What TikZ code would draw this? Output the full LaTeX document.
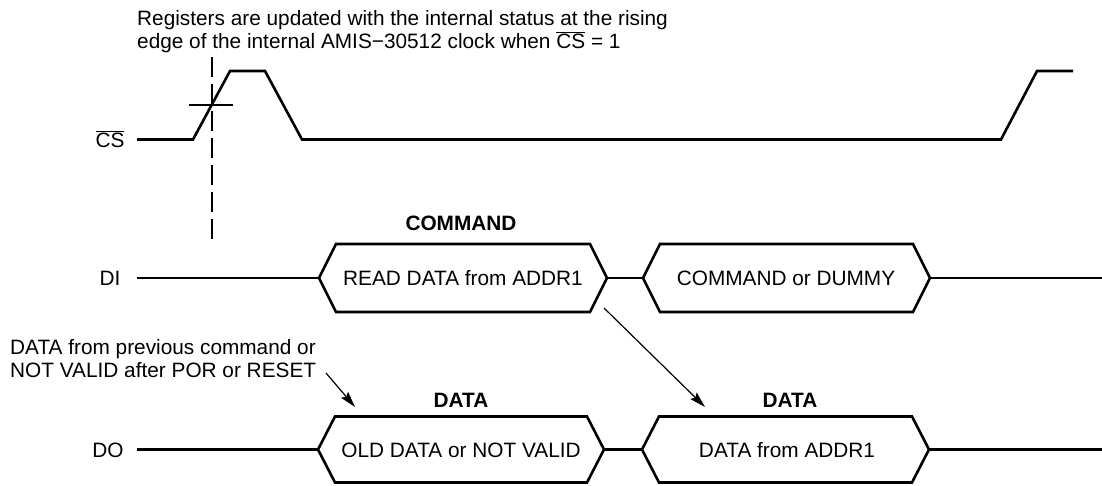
\documentclass[tikz,border=0pt]{standalone}
\usepackage{fontspec}
\setmainfont{Liberation Sans}
\usetikzlibrary{arrows.meta}
\tikzset{
  sig/.style={line width=2.6pt},
  thinln/.style={line width=1.2pt},
  txt/.style={font=\fontsize{20.8}{24}\selectfont, inner sep=0pt, anchor=base},
  btxt/.style={txt, font=\fontsize{20.8}{24}\selectfont\bfseries},
  arr/.style={line width=1.2pt, -{Stealth[length=16pt,width=9pt,inset=2.5pt]}},
}
\begin{document}
\begin{tikzpicture}[x=1pt,y=-1pt]
\useasboundingbox (0,0) rectangle (1102,485);

% heading
\node[txt, anchor=base west] (reg1) at (137,25) {Registers are updated with the internal status at the rising};
\node[txt, anchor=base west] (reg2) at (137,48) {edge of the internal AMIS−30512 clock when $\overline{\hbox{CS}}$ = 1};

% CS signal
\node[txt] (cs) at (110,147) {$\overline{\hbox{CS}}$};
\draw[sig] (137,139.5) -- (193,139.5) -- (230,71) -- (265,71) -- (302,139.5)
  -- (1001,139.5) -- (1037,71) -- (1073,71);
\draw[thinln, dash pattern=on 20pt off 7pt] (212,57) -- (212,239);
\draw[thinln] (189,105) -- (233,105);

% DI signal
\node[txt] (di) at (110,285.5) {DI};
\coordinate (di0) at (137,278);
\coordinate (h1l) at (319,278);
\coordinate (h1r) at (607,278);
\coordinate (h2l) at (643,278);
\coordinate (h2r) at (930,278);
\coordinate (di9) at (1102,278);
\draw[sig] (di0) -- (h1l);
\draw[sig] (h1l) -- (336,244) -- (590,244) -- (h1r) -- (590,312) -- (336,312) -- cycle;
\draw[sig] (h1r) -- (h2l);
\draw[sig] (h2l) -- (660,244) -- (913,244) -- (h2r) -- (913,312) -- (660,312) -- cycle;
\draw[sig] (h2r) -- (di9);
\node[txt] (rd) at (463,285.5) {READ DATA from ADDR1};
\node[txt] (cd) at (786,285.5) {COMMAND or DUMMY};
\node[btxt] (cmd) at (461,230) {COMMAND};

% DO signal
\node[txt] (do) at (108,457) {DO};
\coordinate (do0) at (137,449.5);
\coordinate (g1l) at (318,449.5);
\coordinate (g1r) at (604,449.5);
\coordinate (g2l) at (642,449.5);
\coordinate (g2r) at (929,449.5);
\coordinate (do9) at (1102,449.5);
\draw[sig] (do0) -- (g1l);
\draw[sig] (g1l) -- (335,416.5) -- (587,416.5) -- (g1r) -- (587,482.5) -- (335,482.5) -- cycle;
\draw[sig] (g1r) -- (g2l);
\draw[sig] (g2l) -- (659,416.5) -- (912,416.5) -- (g2r) -- (912,482.5) -- (659,482.5) -- cycle;
\draw[sig] (g2r) -- (do9);
\node[txt] (od) at (461,457) {OLD DATA or NOT VALID};
\node[txt] (da) at (787,457) {DATA from ADDR1};
\node[btxt] (data1) at (461,407) {DATA};
\node[btxt] (data2) at (790,407) {DATA};

% annotation
\node[txt, anchor=base west] (ann1) at (10,354) {DATA from previous command or};
\node[txt, anchor=base west] (ann2) at (10,377) {NOT VALID after POR or RESET};
\coordinate (a1s) at (326,373);
\coordinate (a1e) at (355,407);
\draw[arr] (a1s) -- (a1e);
\coordinate (a2s) at (604,308);
\coordinate (a2e) at (705,407);
\draw[arr] (a2s) -- (a2e);
\end{tikzpicture}
\end{document}
